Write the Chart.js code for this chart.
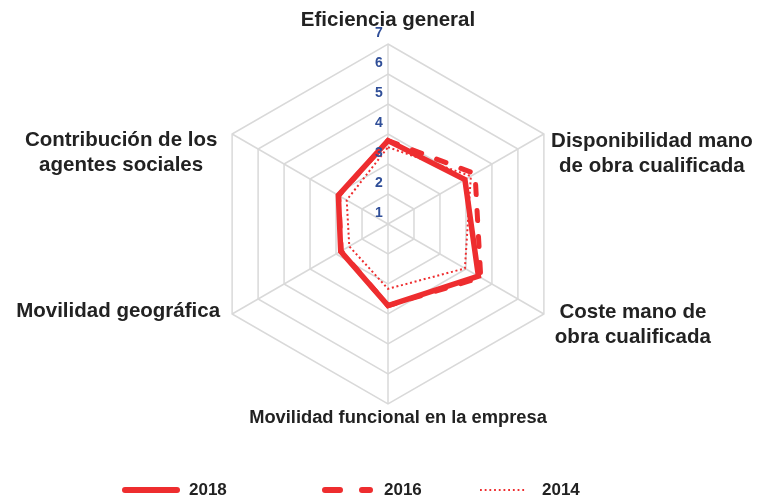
<!DOCTYPE html>
<html>
<head>
<meta charset="utf-8">
<script src="https://cdn.jsdelivr.net/npm/chart.js@4/dist/chart.umd.min.js"></script>
<style>
  html, body { margin: 0; padding: 0; background: #fff; }
  #wrap { width: 764px; height: 499px; position: relative; }
</style>
</head>
<body>
<div id="wrap"><canvas id="radarChart" width="764" height="499"></canvas></div>
<script>
// data
const categories = [
    ['Eficiencia general'],
    ['Disponibilidad mano', 'de obra cualificada'],
    ['Coste mano de', 'obra cualificada'],
    ['Movilidad funcional en la empresa'],
    ['Movilidad geográfica'],
    ['Contribución de los', 'agentes sociales']
];
const years = ['2018', '2016', '2014'];
const values2018 = [3.78, 3.96, 4.48, 3.72, 2.82, 2.91];
const values2016 = [3.78, 4.35, 4.57, 3.72, 2.80, 2.90];
const values2014 = [3.56, 4.19, 3.96, 3.16, 2.49, 2.59];
const tickValues = [1, 2, 3, 4, 5, 6, 7];

// layout: where each axis label sits relative to the outer point of its axis
const labelOffsets = [[0, -24], [108, 20], [89, 11], [10, 14], [-114, -3], [-111, 19]];
const legendX = [125, 320, 480];

const red = '#ee2d2f';
const textFont = '"Liberation Sans", Arial, sans-serif';

const overlay = {
    id: 'overlay',
    afterDraw(chart) {
        const ctx = chart.ctx;
        const scale = chart.scales.r;
        ctx.save();

        // tick labels, just left of the vertical axis
        ctx.font = 'bold 14px ' + textFont;
        ctx.fillStyle = '#2f4e98';
        ctx.textAlign = 'center';
        ctx.textBaseline = 'middle';
        tickValues.forEach(v => {
            const d = scale.getDistanceFromCenterForValue(v);
            ctx.fillText(String(v), scale.xCenter - 9, scale.yCenter - d - 11);
        });

        // axis labels
        ctx.fillStyle = '#222';
        categories.forEach((lines, i) => {
            const p = scale.getPointPosition(i, scale.drawingArea);
            const cx = p.x + labelOffsets[i][0];
            const cy = p.y + labelOffsets[i][1];
            const size = i === 3 ? 18.3 : 20.5;
            const lh = 25;
            ctx.font = 'bold ' + size + 'px ' + textFont;
            lines.forEach((t, k) => {
                ctx.fillText(t, cx, cy + (k - (lines.length - 1) / 2) * lh);
            });
        });

        // legend
        const ly = 490;
        chart.data.datasets.forEach((ds, i) => {
            const x0 = legendX[i];
            ctx.strokeStyle = ds.borderColor;
            ctx.lineCap = 'round';
            ctx.beginPath();
            if (i === 0) {
                ctx.lineWidth = 6;
                ctx.setLineDash([]);
                ctx.moveTo(x0, ly); ctx.lineTo(x0 + 52, ly);
            } else if (i === 1) {
                ctx.lineWidth = 6;
                ctx.setLineDash([15, 22]);
                ctx.moveTo(x0 + 5, ly); ctx.lineTo(x0 + 50, ly);
            } else {
                ctx.lineWidth = 1.8;
                ctx.lineCap = 'butt';
                ctx.setLineDash([1.8, 2.9]);
                ctx.moveTo(x0, ly); ctx.lineTo(x0 + 47, ly);
            }
            ctx.stroke();
            ctx.setLineDash([]);
            ctx.font = 'bold 17px ' + textFont;
            ctx.fillStyle = '#222';
            ctx.textAlign = 'left';
            ctx.fillText(ds.label, x0 + (i === 2 ? 62 : 64), ly);
        });
        ctx.restore();
    }
};

const ctx = document.getElementById('radarChart').getContext('2d');
const radarChart = new Chart(ctx, {
    type: 'radar',
    data: {
        labels: categories,
        datasets: [{
            label: years[0],
            data: values2018,
            borderColor: red,
            borderWidth: 5.5,
            fill: false,
            pointRadius: 0
        }, {
            label: years[1],
            data: values2016,
            borderColor: red,
            borderWidth: 5,
            borderDash: [10, 16],
            borderCapStyle: 'round',
            fill: false,
            pointRadius: 0
        }, {
            label: years[2],
            data: values2014,
            borderColor: red,
            borderWidth: 2,
            borderDash: [2, 2.7],
            fill: false,
            pointRadius: 0
        }]
    },
    options: {
        responsive: false,
        animation: false,
        layout: { padding: { top: 44, bottom: 95, left: 12, right: 0 } },
        plugins: {
            legend: { display: false },
            tooltip: { enabled: false }
        },
        scales: {
            r: {
                min: 1,
                max: 7,
                ticks: { stepSize: 1, display: false },
                grid: { color: '#d9d9d9', lineWidth: 1.5 },
                angleLines: { color: '#d9d9d9', lineWidth: 1.5 },
                pointLabels: { display: false }
            }
        }
    },
    plugins: [overlay]
});
</script>
</body>
</html>
